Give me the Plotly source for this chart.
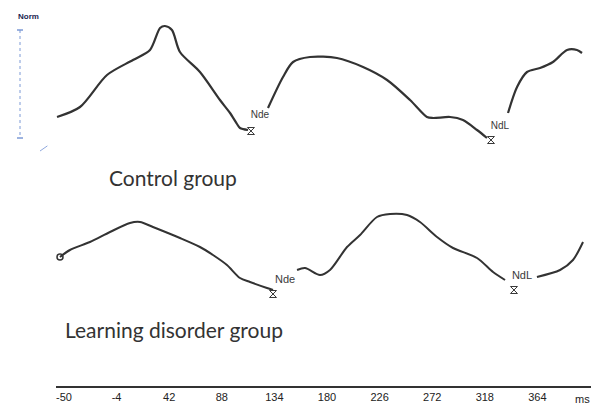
import plotly.graph_objects as go

# ---- data (time in ms, amplitude in relative units) ----
tick_vals = [-50, -4, 42, 88, 134, 180, 226, 272, 318, 364]
tick_text = ["-50", "-4", "42", "88", "134", "180", "226", "272", "318", "364"]

ctrl_t = [-56.1, -36.0, -12.4, 10.3, 25.2, 34.0, 38.3, 44.4, 51.4, 68.9, 86.4, 95.2, 101.3, 103.9, 110.9,
          None,
          128.4, 141.5, 150.3, 165.1, 188.7, 211.5, 232.5, 252.6, 267.4, 272.7, 287.6, 298.9, 311.2, 319.9,
          None,
          338.3, 346.2, 354.9, 366.3, 377.6, 389.9, 398.6, 403.0]
ctrl_v = [0.0, 1.0, 4.2, 5.7, 6.7, 8.9, 9.1, 8.7, 6.5, 4.5, 1.7, 0.4, -0.7, -1.1, -1.3,
          None,
          0.9, 4.0, 5.5, 6.0, 5.9, 5.0, 3.7, 1.7, 0.0, -0.1, 0.0, -0.3, -1.3, -2.1,
          None,
          0.4, 3.0, 4.5, 4.9, 5.5, 6.7, 6.7, 6.4]

ld_t = [-53.5, -44.8, -27.3, -9.8, 7.7, 16.5, 27.8, 51.4, 68.9, 80.3, 92.5, 103.9, 112.7, 127.5, 132.8,
        None,
        153.8, 160.8, 173.9, 182.6, 197.5, 208.9, 223.7, 235.1, 250.0, 261.3, 276.2, 290.2, 311.2, 325.2, 335.7,
        None,
        363.6, 383.8, 395.1, 403.9]
ld_v = [0.0, 0.7, 1.5, 2.5, 3.4, 3.5, 3.0, 1.9, 1.0, 0.2, -0.8, -2.1, -2.5, -3.1, -3.3,
        None,
        -1.3, -1.1, -1.8, -1.3, 1.0, 2.2, 4.0, 4.3, 4.2, 3.5, 2.0, 0.9, -0.1, -1.5, -2.3,
        None,
        -2.0, -1.3, -0.3, 1.5]

peak_names = ["Nde", "NdL"]
ctrl_peak_t = [113.5, 323.4]
ctrl_peak_v = [-1.4, -2.3]
ctrl_label_t = [121.4, 331.3]
ctrl_label_v = [0.2, -0.9]
ld_peak_t = [132.8, 343.5]
ld_peak_v = [-3.7, -3.3]
ld_label_t = [143.3, 350.5]
ld_label_v = [-2.3, -1.9]
ld_label_names = ["Nde", "NdL"]

group_names = ["Control group", "Learning disorder group"]

W, H = 591, 411
line_col = "#333333"
label_col = "#3a3a3a"

fig = go.Figure()
fig.add_trace(go.Scatter(x=ctrl_t, y=ctrl_v, mode="lines", yaxis="y",
                         line=dict(color=line_col, width=2.2, shape="spline", smoothing=0.8),
                         connectgaps=False, hoverinfo="skip"))
fig.add_trace(go.Scatter(x=ld_t, y=ld_v, mode="lines", yaxis="y2",
                         line=dict(color=line_col, width=2, shape="spline", smoothing=0.8),
                         connectgaps=False, hoverinfo="skip"))
# start glyph of the LD trace
fig.add_trace(go.Scatter(x=ld_t[:1], y=ld_v[:1], mode="markers", yaxis="y2",
                         marker=dict(symbol="circle-open", size=6, color=line_col, line=dict(width=1.5)),
                         hoverinfo="skip", cliponaxis=False))
# peak marks
fig.add_trace(go.Scatter(x=ctrl_peak_t, y=ctrl_peak_v, mode="markers", yaxis="y",
                         marker=dict(symbol="hourglass-open", size=7, color=label_col, line=dict(width=1)),
                         hoverinfo="skip"))
fig.add_trace(go.Scatter(x=ld_peak_t, y=ld_peak_v, mode="markers", yaxis="y2",
                         marker=dict(symbol="hourglass-open", size=7, color=label_col, line=dict(width=1)),
                         hoverinfo="skip"))
# peak labels
fig.add_trace(go.Scatter(x=ctrl_label_t, y=ctrl_label_v, mode="text", yaxis="y", text=peak_names,
                         textfont=dict(family="Liberation Sans", size=10, color=label_col),
                         hoverinfo="skip"))
fig.add_trace(go.Scatter(x=ld_label_t, y=ld_label_v, mode="text", yaxis="y2", text=ld_label_names,
                         textfont=dict(family="Liberation Sans", size=11, color=label_col),
                         hoverinfo="skip"))

plot_bottom = 386
x_left_px = 56
px_per_ms = 1.1435
x0 = (x_left_px - 64) / px_per_ms - 50
x1 = (W - 64) / px_per_ms - 50

fig.update_layout(
    width=W, height=H,
    margin=dict(l=0, r=0, t=0, b=H - plot_bottom),
    paper_bgcolor="white", plot_bgcolor="white",
    showlegend=False,
    xaxis=dict(domain=[x_left_px / W, 1], range=[x0, x1], showgrid=False, zeroline=False,
               showline=True, linecolor="#333", linewidth=2,
               tickmode="array", tickvals=tick_vals, ticktext=tick_text, ticks="",
               tickfont=dict(family="Liberation Sans", size=11, color="#222")),
    yaxis=dict(domain=[0, 1], range=[-26.9, 11.7], visible=False, fixedrange=True),
    yaxis2=dict(domain=[0, 1], range=[-12.9, 25.7], visible=False, overlaying="y", fixedrange=True),
)

def px2paper_y(py):
    return (plot_bottom - py) / plot_bottom

fig.add_annotation(text=group_names[0], x=107 / W, y=px2paper_y(177), xref="paper", yref="paper",
                   xanchor="left", yanchor="middle", showarrow=False,
                   font=dict(family="Lato", size=21, color="#333"))
fig.add_annotation(text=group_names[1], x=63 / W, y=px2paper_y(329), xref="paper", yref="paper",
                   xanchor="left", yanchor="middle", showarrow=False,
                   font=dict(family="Lato", size=21, color="#333"))
fig.add_annotation(text="ms", x=582 / W, y=px2paper_y(plot_bottom + 13), xref="paper", yref="paper",
                   xanchor="center", yanchor="middle", showarrow=False,
                   font=dict(family="Liberation Sans", size=11, color="#222"))
fig.add_annotation(text="<b>Norm</b>", x=29 / W, y=px2paper_y(16), xref="paper", yref="paper",
                   xanchor="center", yanchor="middle", showarrow=False,
                   font=dict(family="Liberation Sans", size=8, color="#1a2550"))

# scale bar (blue dotted) and small dashed stroke
fig.add_shape(type="line", xref="paper", yref="paper", x0=20 / W, x1=20 / W,
              y0=px2paper_y(30), y1=px2paper_y(138), line=dict(color="#7d9ad6", width=1, dash="dot"))
for py in (30, 138):
    fig.add_shape(type="line", xref="paper", yref="paper", x0=17 / W, x1=23 / W,
                  y0=px2paper_y(py), y1=px2paper_y(py), line=dict(color="#7d9ad6", width=1.5))
fig.add_shape(type="line", xref="paper", yref="paper", x0=40 / W, x1=53 / W,
              y0=px2paper_y(151), y1=px2paper_y(142), line=dict(color="#8fa8de", width=1, dash="dash"))

fig.write_html("out.html", config={"displayModeBar": False},
               post_script="document.body.style.margin='0';document.body.style.padding='0';")
